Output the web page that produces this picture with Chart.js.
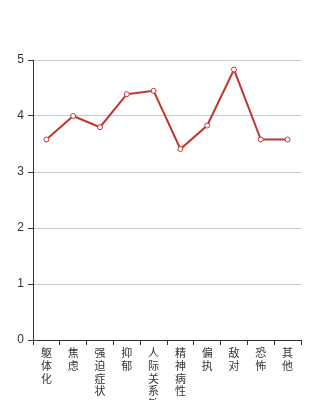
<!DOCTYPE html>
<html>
<head>
<meta charset="utf-8">
<script src="https://cdn.jsdelivr.net/npm/chart.js@4/dist/chart.umd.min.js"></script>
<style>
  html, body { margin: 0; padding: 0; background: #fff; overflow: hidden; }
  #wrap { width: 334px; height: 400px; position: relative; }
</style>
</head>
<body>
<div id="wrap"><canvas id="chart" width="334" height="400"></canvas></div>
<script>
// factor names (SCL-90), split one character per line below
const categories = ["躯体化", "焦虑", "强迫症状", "抑郁", "人际关系敏感", "精神病性", "偏执", "敌对", "恐怖", "其他"];
const scores = [3.58, 4.0, 3.8, 4.39, 4.45, 3.41, 3.83, 4.83, 3.58, 3.58];
const yTicks = [0, 1, 2, 3, 4, 5];

const font = "'Liberation Sans', 'Noto Sans CJK SC', sans-serif";

var ctx = document.getElementById("chart").getContext("2d");

var myChart = new Chart(ctx, {
  type: "line",
  data: {
    labels: categories.map((c) => c.split("")),
    datasets: [
      {
        data: scores,
        borderColor: "#c23531",
        borderWidth: 2,
        tension: 0,
        pointRadius: 2.5,
        pointBorderWidth: 1,
        pointBackgroundColor: "#fff",
        pointBorderColor: "#c23531",
      },
    ],
  },
  options: {
    responsive: false,
    animation: false,
    layout: { padding: { top: 60, right: 33, left: 0, bottom: 0 } },
    plugins: { legend: { display: false }, tooltip: { enabled: false } },
    scales: {
      x: {
        offset: true,
        afterFit: (s) => { s.height = 60; },
        border: { color: "#333", width: 1 },
        grid: {
          offset: true,
          drawOnChartArea: false,
          drawTicks: true,
          tickLength: 5,
          tickColor: "#333",
        },
        ticks: {
          color: "#333",
          autoSkip: false,
          maxRotation: 0,
          minRotation: 0,
          padding: 3,
          font: { family: font, size: 11, lineHeight: 1.15 },
        },
      },
      y: {
        min: 0,
        max: 5,
        afterFit: (s) => { s.width = 33; },
        afterBuildTicks: (s) => { s.ticks = yTicks.map((v) => ({ value: v })); },
        border: { color: "#333", width: 1 },
        grid: {
          color: "#ccc",
          tickColor: "#333",
          tickLength: 5,
        },
        ticks: {
          color: "#333",
          padding: 4,
          font: { family: font, size: 12 },
        },
      },
    },
  },
});
</script>
</body>
</html>
